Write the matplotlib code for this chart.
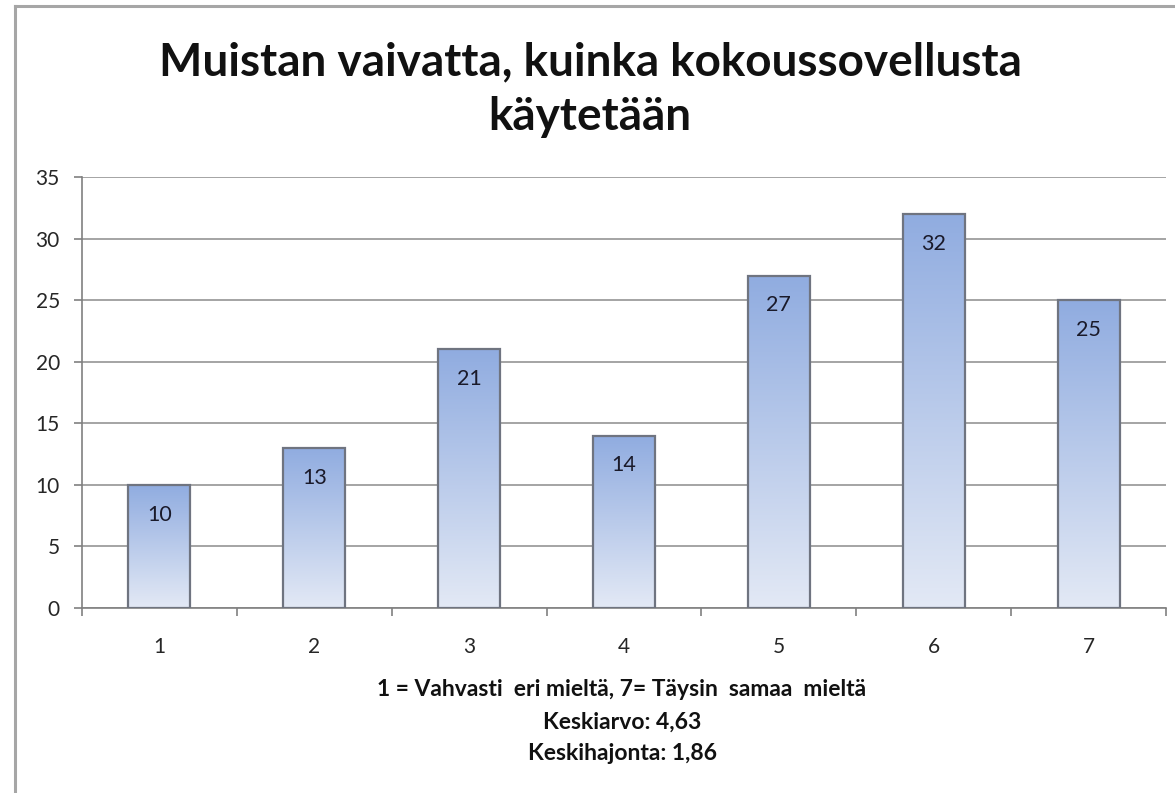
import matplotlib
matplotlib.use("Agg")
import matplotlib.pyplot as plt
import numpy as np
from matplotlib.lines import Line2D
from matplotlib.colors import LinearSegmentedColormap

categories = ["1", "2", "3", "4", "5", "6", "7"]
values = [10, 13, 21, 14, 27, 32, 25]
yticks = [0, 5, 10, 15, 20, 25, 30, 35]
title = "Muistan vaivatta, kuinka kokoussovellusta\nkäytetään"
notes = ["1 = Vahvasti  eri mieltä, 7= Täysin  samaa  mieltä",
         "Keskiarvo: 4,63",
         "Keskihajonta: 1,86"]

plt.rcParams['font.family'] = ['Lato', 'DejaVu Sans']

W, H = 1175, 793
fig = plt.figure(figsize=(W / 100, H / 100), dpi=100)
fig.patch.set_facecolor("white")

# outer frame (left and top edges)
fig.add_artist(Line2D([15 / W, 15 / W], [0, 1 - 6 / H], transform=fig.transFigure,
                      color="#a6a6a6", lw=2.2))
fig.add_artist(Line2D([15 / W, 1], [1 - 6 / H, 1 - 6 / H], transform=fig.transFigure,
                      color="#a6a6a6", lw=2.2))

left, right, top, bottom = 82, 1166, 177, 608
ax = fig.add_axes([left / W, 1 - bottom / H, (right - left) / W, (bottom - top) / H])

x = np.arange(len(categories))
bw = 0.4
grad = np.linspace(0, 1, 256).reshape(-1, 1)
cmap = LinearSegmentedColormap.from_list("g", ["#e3e9f5", "#90ace0"])

for xi, v in zip(x, values):
    ax.imshow(grad, extent=(xi - bw / 2, xi + bw / 2, 0, v), origin="lower",
              cmap=cmap, aspect="auto", zorder=2, interpolation="bicubic")
    ax.add_patch(plt.Rectangle((xi - bw / 2, 0), bw, v, fill=False,
                               edgecolor="#6f7480", lw=1.6, zorder=3))
    ax.annotate(str(v), (xi, v), xytext=(0, -21.5), textcoords="offset points",
                ha="center", va="center", fontsize=15.5, color="#1a1a2a", zorder=4)
ax.set_xlim(-0.5, len(categories) - 0.5)
ax.set_ylim(0, 35)

ax.set_yticks(yticks)
ax.set_yticklabels([str(t) for t in yticks], fontsize=15, color="#262626")
ax.set_xticks(x)
ax.set_xticklabels(categories, fontsize=15, color="#262626")
ax.set_xticks(np.arange(-0.5, len(categories)), minor=True)
ax.tick_params(axis="x", which="major", length=0, pad=21)
ax.tick_params(axis="x", which="minor", length=6, color="#808080", width=1.2)
ax.tick_params(axis="y", length=6, color="#808080", width=1.2, pad=10)
ax.grid(axis="y", color="#8c8c8c", lw=1.1, zorder=1)
ax.set_axisbelow(True)
for s in ["top", "right"]:
    ax.spines[s].set_visible(False)
for s in ["left", "bottom"]:
    ax.spines[s].set_color("#808080")
    ax.spines[s].set_linewidth(1.2)

fig.text(590 / W, 1 - 90 / H, title, ha="center", va="center",
         fontsize=33, fontweight="bold", color="#111111", linespacing=1.38)
for i, (t, yy) in enumerate(zip(notes, [690, 722, 753])):
    fig.text(622 / W, 1 - yy / H, t, ha="center", va="center",
             fontsize=16.5, fontweight="bold", color="#111111")

fig.savefig("out.png", dpi=100)
